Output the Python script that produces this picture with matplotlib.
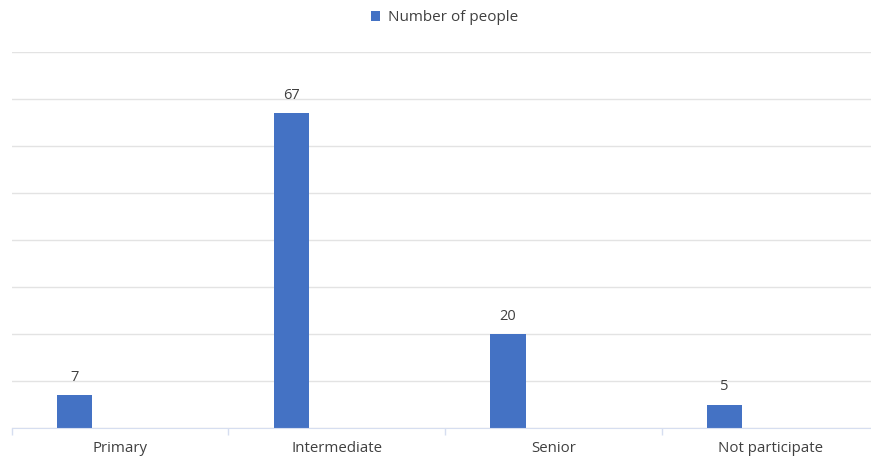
import matplotlib.pyplot as plt
from matplotlib.ticker import FixedLocator, MultipleLocator

categories = ["Primary", "Intermediate", "Senior", "Not participate"]
people = [7, 67, 20, 5]

barColor = "#4472C4"
textColor = "#404040"

plt.rcParams['font.family'] = ['Open Sans', 'DejaVu Sans']

fig = plt.figure(figsize=(8.71, 4.59), dpi=100)
ax = fig.add_axes([0.0134, 0.0675, 0.9866, 0.8192])

x = list(range(len(categories)))
# bars sit left of the category centre (second slot of the group is empty)
barX = [i - 0.21 for i in x]
bars = ax.bar(barX, people, width=0.162, color=barColor, label="Number of people", zorder=3)

for b, v in zip(bars, people):
    ax.annotate(str(v), (b.get_x() + b.get_width() / 2, v), xytext=(0, 7.5),
                textcoords="offset points", ha="center", va="bottom",
                fontsize=10.5, color=textColor)

ax.set_xlim(-0.5, 3.465)
ax.set_ylim(0, 80)
ax.yaxis.set_major_locator(MultipleLocator(10))
ax.set_yticklabels([])
ax.tick_params(axis="y", length=0)
ax.grid(axis="y", color="#e3e3e3", linewidth=1, zorder=0)

ax.set_xticks(x)
ax.set_xticklabels(categories, fontsize=10.8, color=textColor)
ax.tick_params(axis="x", which="major", length=0, pad=9.5)
ax.xaxis.set_minor_locator(FixedLocator([-0.5, 0.5, 1.5, 2.5, 3.5]))
ax.tick_params(axis="x", which="minor", length=5, color="#d6def0", width=1)

for side in ["top", "right", "left"]:
    ax.spines[side].set_visible(False)
ax.spines["bottom"].set_color("#d6def0")
ax.spines["bottom"].set_zorder(4)

leg = ax.legend(loc="lower center", bbox_to_anchor=(0.504, 1.035), frameon=False,
                fontsize=11, handlelength=0.6, handleheight=0.6, handletextpad=0.5)
for t in leg.get_texts():
    t.set_color(textColor)

fig.savefig("out.png", dpi=100)
